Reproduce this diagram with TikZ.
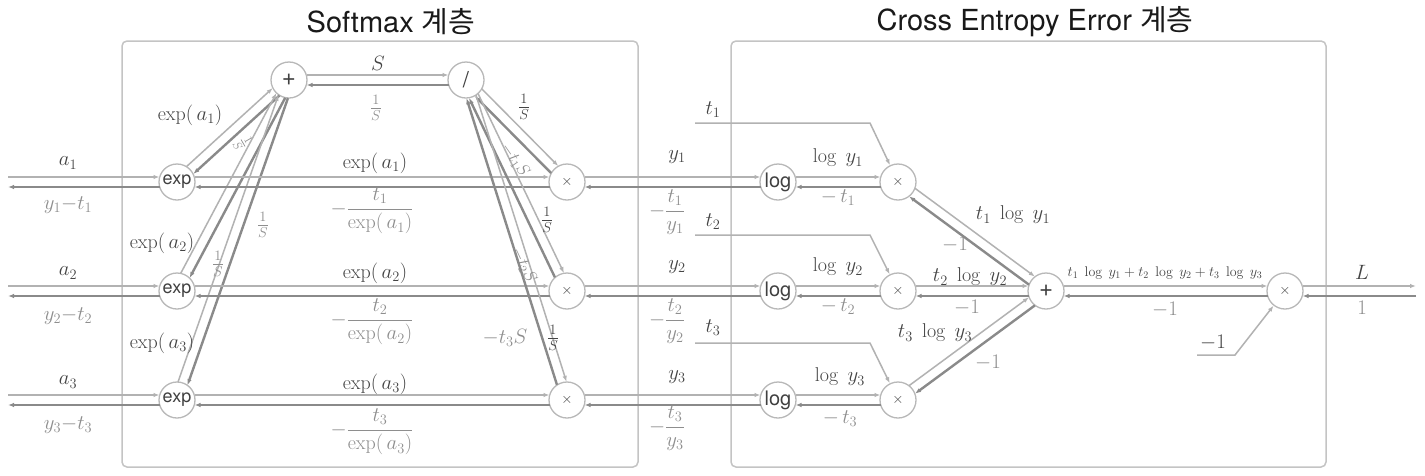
\documentclass[tikz,border=0pt]{standalone}
\usepackage{amsmath}
\usepackage{fontspec}
\usetikzlibrary{calc,arrows.meta}
\newfontfamily\helv{TeX Gyre Heros}
\newfontfamily\krfont{Noto Sans CJK KR}
\definecolor{fwdc}{HTML}{B2B2B2}
\definecolor{bwdc}{HTML}{8A8A8A}
\definecolor{boxc}{HTML}{C4C4C4}
\definecolor{circc}{HTML}{B8B8B8}
\definecolor{flab}{HTML}{444444}
\definecolor{blab}{HTML}{8E8E8E}
\tikzset{
  opnode/.style={circle, draw=circc, line width=1.3pt, fill=white, minimum size=36pt, inner sep=0pt, text=black!75, font=\helv\fontsize{18}{18}\selectfont},
  fwd/.style={draw=fwdc, line width=1.5pt, -{Latex[length=6pt,width=4.5pt]}},
  bwd/.style={draw=bwdc, line width=2.4pt, -{Latex[length=6pt,width=4.5pt]}},
  inline/.style={draw=fwdc, line width=1.5pt, -{Latex[length=6pt,width=4.5pt]}},
  flabel/.style={text=flab, font=\fontsize{20}{24}\selectfont, inner sep=1pt},
  blabel/.style={text=blab, font=\fontsize{20}{24}\selectfont, inner sep=1pt},
  rotlabel/.style={text=blab, font=\fontsize{18}{20}\selectfont, inner sep=0pt},
  smalllabel/.style={text=flab, font=\fontsize{14}{16}\selectfont, inner sep=1pt},
  layerbox/.style={draw=boxc, line width=1.5pt, rounded corners=5pt},
  titletext/.style={font=\fontsize{29}{32}\selectfont, text=black!90},
}
\newcommand\pairedge[4]{%
  \draw[fwd, shorten <=#3, shorten >=#4] ($(#1)!5pt!90:(#2)$) -- ($(#2)!5pt!-90:(#1)$);
  \draw[bwd, shorten <=#4, shorten >=#3] ($(#2)!5pt!90:(#1)$) -- ($(#1)!5pt!-90:(#2)$);
}
\begin{document}
\begin{tikzpicture}[x=1pt,y=-1pt]
\useasboundingbox (0,0) rectangle (1425,475);
\fill[white] (0,0) rectangle (1425,475);
% layer boxes
\draw[layerbox] (122,41) rectangle (638,467);
\draw[layerbox] (731,41) rectangle (1326,467);
\node[titletext] (tsm) at (391,22) {\helv Softmax \krfont 계층};
\node[titletext] (tce) at (1035,22) {\helv Cross Entropy Error \krfont 계층};
% nodes
\node[opnode] (e1) at (177,182) {exp};
\node[opnode] (e2) at (177,291) {exp};
\node[opnode] (e3) at (177,400) {exp};
\node[opnode, font=\helv\fontsize{24}{24}\selectfont] (pl) at (289,80) {+};
\node[opnode, font=\helv\fontsize{22}{22}\selectfont] (dv) at (466,80) {/};
\node[opnode, font=\fontsize{14}{14}\selectfont] (m1) at (567,182) {$\times$};
\node[opnode, font=\fontsize{14}{14}\selectfont] (m2) at (567,291) {$\times$};
\node[opnode, font=\fontsize{14}{14}\selectfont] (m3) at (567,400) {$\times$};
\node[opnode, font=\helv\fontsize{20}{20}\selectfont] (lg1) at (778,182) {log};
\node[opnode, font=\helv\fontsize{20}{20}\selectfont] (lg2) at (778,291) {log};
\node[opnode, font=\helv\fontsize{20}{20}\selectfont] (lg3) at (778,400) {log};
\node[opnode, font=\fontsize{14}{14}\selectfont] (c1) at (898,182) {$\times$};
\node[opnode, font=\fontsize{14}{14}\selectfont] (c2) at (898,291) {$\times$};
\node[opnode, font=\fontsize{14}{14}\selectfont] (c3) at (898,400) {$\times$};
\node[opnode, font=\helv\fontsize{24}{24}\selectfont] (cp) at (1046,291) {+};
\node[opnode, font=\fontsize{14}{14}\selectfont] (fm) at (1285,291) {$\times$};
\coordinate (in1) at (8,182);
\coordinate (in2) at (8,291);
\coordinate (in3) at (8,400);
\coordinate (out) at (1416,291);
% paired edges
\pairedge{in1}{e1}{0pt}{17.5pt}
\pairedge{in2}{e2}{0pt}{17.5pt}
\pairedge{in3}{e3}{0pt}{17.5pt}
\pairedge{e1}{pl}{17.5pt}{17.5pt}
\pairedge{e2}{pl}{17.5pt}{17.5pt}
\pairedge{e3}{pl}{17.5pt}{17.5pt}
\pairedge{pl}{dv}{17.5pt}{17.5pt}
\pairedge{e1}{m1}{17.5pt}{17.5pt}
\pairedge{e2}{m2}{17.5pt}{17.5pt}
\pairedge{e3}{m3}{17.5pt}{17.5pt}
\pairedge{dv}{m1}{17.5pt}{17.5pt}
\pairedge{dv}{m2}{17.5pt}{17.5pt}
\pairedge{dv}{m3}{17.5pt}{17.5pt}
\pairedge{m1}{lg1}{17.5pt}{17.5pt}
\pairedge{m2}{lg2}{17.5pt}{17.5pt}
\pairedge{m3}{lg3}{17.5pt}{17.5pt}
\pairedge{lg1}{c1}{17.5pt}{17.5pt}
\pairedge{lg2}{c2}{17.5pt}{17.5pt}
\pairedge{lg3}{c3}{17.5pt}{17.5pt}
\pairedge{c1}{cp}{17.5pt}{17.5pt}
\pairedge{c2}{cp}{17.5pt}{17.5pt}
\pairedge{c3}{cp}{17.5pt}{17.5pt}
\pairedge{cp}{fm}{17.5pt}{17.5pt}
\pairedge{fm}{out}{17.5pt}{0pt}
% t inputs
\coordinate (t1s) at (695,123); \coordinate (t1b) at (870,123);
\coordinate (t2s) at (695,235); \coordinate (t2b) at (870,235);
\coordinate (t3s) at (695,343); \coordinate (t3b) at (870,343);
\draw[inline] (t1s) -- (t1b) -- (c1);
\draw[inline] (t2s) -- (t2b) -- (c2);
\draw[inline] (t3s) -- (t3b) -- (c3);
\coordinate (ms) at (1197,355); \coordinate (mb) at (1235,355);
\draw[inline] (ms) -- (mb) -- (fm);
% labels left
\node[flabel] (la1) at (68,163) {$a_1$};
\node[blabel] (lb1) at (68,205) {$y_1{-}t_1$};
\node[flabel] (la2) at (68,273) {$a_2$};
\node[blabel] (lb2) at (68,316) {$y_2{-}t_2$};
\node[flabel] (la3) at (68,382) {$a_3$};
\node[blabel] (lb3) at (68,425) {$y_3{-}t_3$};
% softmax labels
\node[flabel] (lS) at (378,63) {$S$};
\node[blabel] (lSi) at (376,108) {$\tfrac{1}{S}$};
\node[flabel] (lx1) at (190,115) {$\exp(\,a_1)$};
\node[rotlabel, rotate=-60] (lr1) at (243,143) {$\tfrac{1}{S}$};
\node[flabel] (lx2) at (162,243) {$\exp(\,a_2)$};
\node[blabel] (lr2) at (218,264) {$\tfrac{1}{S}$};
\node[flabel] (lx3) at (162,343) {$\exp(\,a_3)$};
\node[blabel] (lr3) at (263,225) {$\tfrac{1}{S}$};
\node[flabel] (le1) at (375,163) {$\exp(\,a_1)$};
\node[flabel] (le2) at (375,273) {$\exp(\,a_2)$};
\node[flabel] (le3) at (375,384) {$\exp(\,a_3)$};
\node[blabel] (lf1) at (372,211) {$-\dfrac{t_1}{\exp(\,a_1)}$};
\node[blabel] (lf2) at (372,322) {$-\dfrac{t_2}{\exp(\,a_2)}$};
\node[blabel] (lf3) at (372,432) {$-\dfrac{t_3}{\exp(\,a_3)}$};
\node[flabel] (ld1) at (524,107) {$\tfrac{1}{S}$};
\node[rotlabel, rotate=-55] (lt1) at (515,160) {$-t_1S$};
\node[flabel] (ld2) at (547,220) {$\tfrac{1}{S}$};
\node[rotlabel, rotate=-65] (lt2) at (524,265) {$-t_2S$};
\node[blabel] (lt3) at (505,338) {$-t_3S$};
\node[flabel] (ld3) at (553,338) {$\tfrac{1}{S}$};
% cross entropy labels
\node[flabel] (ly1) at (677,157) {$y_1$};
\node[flabel] (ly2) at (677,267) {$y_2$};
\node[flabel] (ly3) at (677,377) {$y_3$};
\node[blabel] (lq1) at (667,212) {$-\dfrac{t_1}{y_1}$};
\node[blabel] (lq2) at (667,321) {$-\dfrac{t_2}{y_2}$};
\node[blabel] (lq3) at (667,428) {$-\dfrac{t_3}{y_3}$};
\node[flabel] (lti1) at (713,110) {$t_1$};
\node[flabel] (lti2) at (713,222) {$t_2$};
\node[flabel] (lti3) at (713,328) {$t_3$};
\node[flabel] (lg1l) at (838,158) {$\log\;y_1$};
\node[flabel] (lg2l) at (838,267) {$\log\;y_2$};
\node[flabel] (lg3l) at (840,377) {$\log\;y_3$};
\node[blabel] (lm1) at (838,198) {$-\,t_1$};
\node[blabel] (lm2) at (838,307) {$-\,t_2$};
\node[blabel] (lm3) at (840,419) {$-\,t_3$};
\node[flabel] (lp1) at (1013,215) {$t_1\;\log\;y_1$};
\node[blabel] (ln1) at (955,245) {$-1$};
\node[flabel] (lp2) at (970,277) {$t_2\;\log\;y_2$};
\node[blabel] (ln2) at (967,308) {$-1$};
\node[flabel] (lp3) at (935,333) {$t_3\;\log\;y_3$};
\node[blabel] (ln3) at (988,363) {$-1$};
\node[smalllabel] (lsum) at (1165,273) {$t_1\;\log\;y_1+t_2\;\log\;y_2+t_3\;\log\;y_3$};
\node[blabel] (ln4) at (1165,310) {$-1$};
\node[flabel] (lmi) at (1213,343) {$-1$};
\node[flabel] (lL) at (1362,272) {$L$};
\node[blabel] (lone) at (1362,308) {$1$};
\end{tikzpicture}
\end{document}
